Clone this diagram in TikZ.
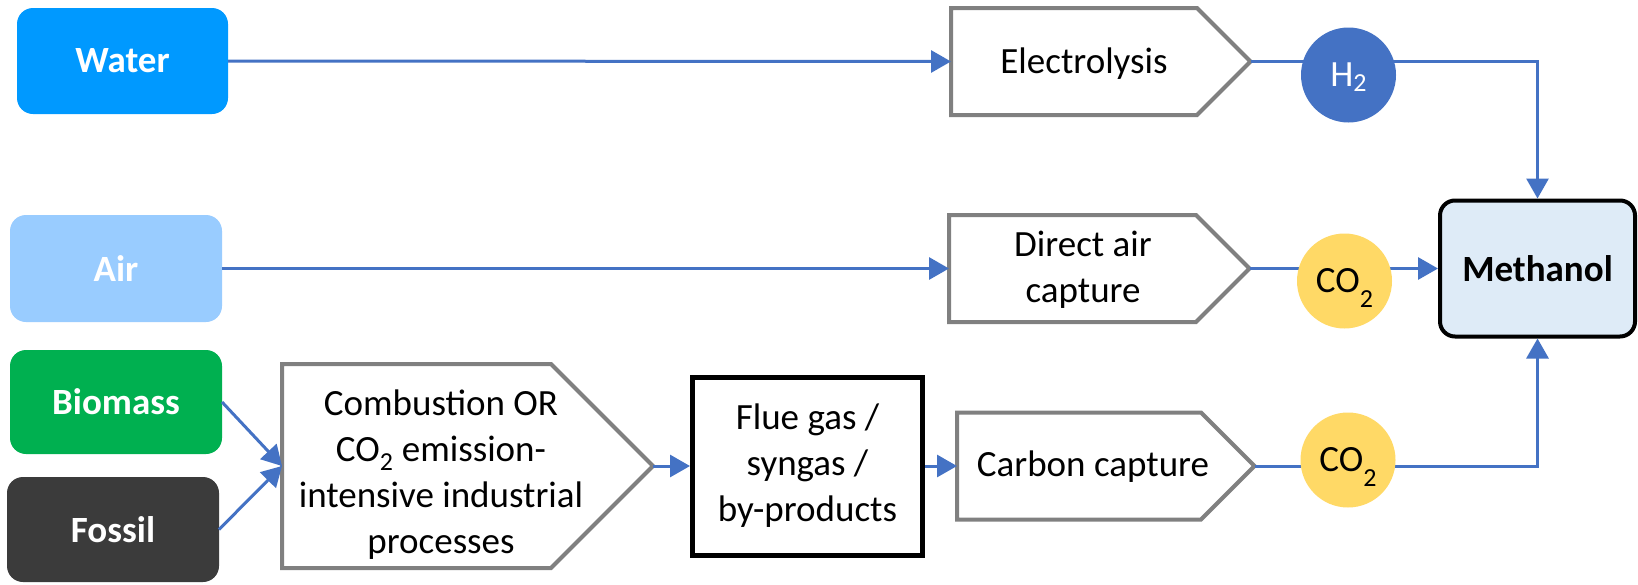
\documentclass[tikz,border=0pt]{standalone}
\usepackage{fontspec}
\setmainfont{Carlito}
\usetikzlibrary{arrows.meta}
\definecolor{waterc}{HTML}{0099FF}
\definecolor{airc}{HTML}{99CCFF}
\definecolor{bioc}{HTML}{00B050}
\definecolor{fossc}{HTML}{3B3B3B}
\definecolor{linec}{HTML}{4472C4}
\definecolor{pentc}{HTML}{808080}
\definecolor{h2c}{HTML}{4472C4}
\definecolor{co2c}{HTML}{FFD966}
\definecolor{methc}{HTML}{DEEBF7}
\newcommand\lblsize{\fontsize{37pt}{46pt}\selectfont}
\newcommand\subtwo[1]{\raisebox{#1}[0pt][0pt]{\fontsize{26pt}{26pt}\selectfont 2}}
\begin{document}
\begin{tikzpicture}[x=1pt,y=-1pt,
  src/.style={rounded corners=16pt, draw=none, text=white, font=\lblsize\bfseries, inner sep=0pt, outer sep=0pt},
  pentbody/.style={draw=none, inner sep=0pt, outer sep=0pt},
  pentline/.style={draw=pentc, line width=4pt, fill=white, line join=miter},
  lbl/.style={font=\lblsize, align=center, text=black, inner sep=0pt},
  conn/.style={draw=linec, line width=3pt, -{Triangle[length=20pt,width=22pt]}},
  bubble/.style={circle, minimum size=95pt, inner sep=0pt, draw=none, font=\lblsize},
  thickbox/.style={draw=black, line width=5pt, fill=white, inner sep=0pt, font=\lblsize, align=center}
]
\useasboundingbox (0,0) rectangle (1638,584);
\fill[white] (0,0) rectangle (1638,584);

% sources
\node[src, fill=waterc, minimum width=211pt, minimum height=106pt] (water) at (122.5,61) {Water};
\node[src, fill=airc, minimum width=212pt, minimum height=107pt] (air) at (116,268.5) {Air};
\node[src, fill=bioc, minimum width=212pt, minimum height=104pt] (bio) at (116,402) {Biomass};
\node[src, fill=fossc, minimum width=212pt, minimum height=105pt] (foss) at (113,529.5) {Fossil};

% process pentagons
\node[pentbody, minimum width=246pt, minimum height=107pt] (elec) at (1074,61.5) {};
\draw[pentline] (elec.north west) -- (elec.north east) -- ([xshift=53.5pt]elec.east) coordinate (elecTip) -- (elec.south east) -- (elec.south west) -- cycle;
\node[lbl] (elecT) at (1084,63.5) {Electrolysis};

\node[pentbody, minimum width=247pt, minimum height=107pt] (dac) at (1072.5,268.5) {};
\draw[pentline] (dac.north west) -- (dac.north east) -- ([xshift=53.5pt]dac.east) coordinate (dacTip) -- (dac.south east) -- (dac.south west) -- cycle;
\node[lbl] (dacT) at (1083,269.5) {Direct air\\capture};

\node[pentbody, minimum width=244pt, minimum height=107pt] (cc) at (1079,466) {};
\draw[pentline] (cc.north west) -- (cc.north east) -- ([xshift=53.5pt]cc.east) coordinate (ccTip) -- (cc.south east) -- (cc.south west) -- cycle;
\node[lbl] (ccT) at (1093,467) {Carbon capture};

\node[pentbody, minimum width=269pt, minimum height=204pt] (comb) at (416.5,466) {};
\draw[pentline] (comb.north west) -- (comb.north east) -- ([xshift=102pt]comb.east) coordinate (combTip) -- (comb.south east) -- (comb.south west) -- cycle;
\node[lbl] (combT) at (441,475) {Combustion OR\\CO\textsubscript{2} emission-\\intensive industrial\\processes};

% flue gas box
\node[thickbox, minimum width=230pt, minimum height=178pt] (flue) at (807.5,466) {Flue gas /\\syngas /\\by-products};

% methanol
\node[draw=black, line width=4pt, fill=methc, rounded corners=15pt, minimum width=195pt, minimum height=136pt, inner sep=0pt, font=\lblsize\bfseries] (meth) at (1537.5,268.5) {Methanol};

% connectors
\draw[conn] (water.east) -- (elec.west);
\draw[conn] (air.east) -- (dac.west);
\draw[conn] (bio.east) -- (comb.west);
\draw[conn] (foss.east) -- (comb.west);
\draw[conn] (combTip) -- (flue.west);
\draw[conn] (flue.east) -- (cc.west);
\draw[conn] (elecTip) -| (meth.north);
\draw[conn] (dacTip) -- (meth.west);
\draw[conn] (ccTip) -| (meth.south);

% bubbles
\node[bubble, fill=h2c, text=white] (h2) at (1348.5,75) {H\subtwo{-5pt}};
\node[bubble, fill=co2c, text=black] (co2a) at (1344.5,281) {CO\subtwo{-15pt}};
\node[bubble, fill=co2c, text=black] (co2b) at (1348,460) {CO\subtwo{-15pt}};
\end{tikzpicture}
\end{document}
